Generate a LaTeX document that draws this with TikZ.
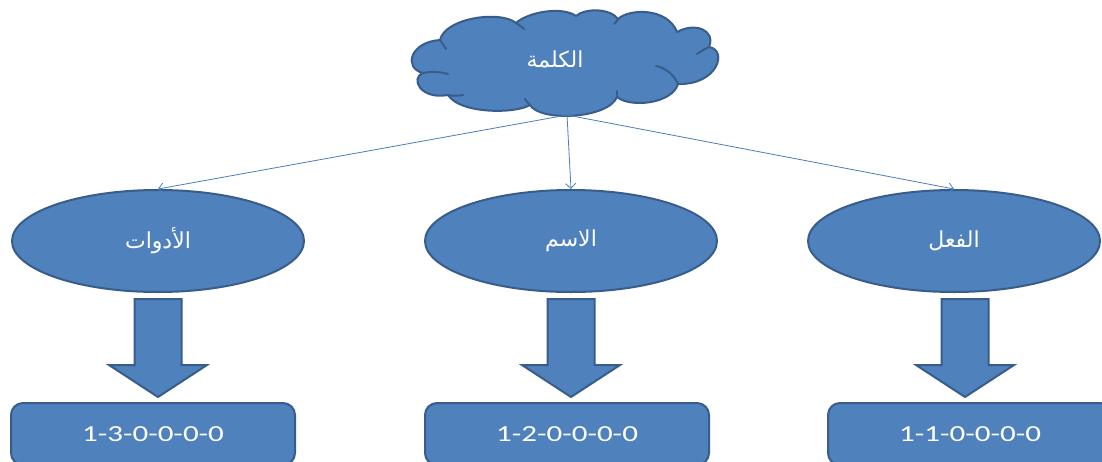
\documentclass[tikz,border=0pt]{standalone}
\usepackage{fontspec}
\setmainfont{Carlito}
\newfontfamily\boxfont[FakeStretch=1.35]{Carlito}
\newfontfamily\arabicfont[Script=Arabic]{DejaVu Sans}
\TeXXeTstate=1
\usetikzlibrary{shapes.geometric,arrows.meta}
\definecolor{fillblue}{HTML}{4F81BD}
\definecolor{edgeblue}{HTML}{385D8A}
\definecolor{lineblue}{HTML}{4A7EBB}
\begin{document}
\begin{tikzpicture}[x=1pt,y=-1pt,
  arabictext/.style={text=white,font=\arabicfont\fontsize{22}{24}\selectfont},
  blob/.style={ellipse,fill=fillblue,draw=edgeblue,line width=2pt,
    minimum width=292pt,minimum height=102pt,inner sep=0pt,arabictext},
  codebox/.style={rectangle,rounded corners=12pt,fill=fillblue,draw=edgeblue,
    line width=2pt,minimum width=284pt,minimum height=62pt,inner sep=0pt,
    text=white,font=\boxfont\fontsize{23}{26}\selectfont},
  conn/.style={draw=lineblue,line width=0.8pt,-{Straight Barb[length=5pt,width=10pt]}},
  blockarrow/.style={fill=fillblue,draw=edgeblue,line width=2pt,line join=miter},
  cloudshape/.style={fill=fillblue,draw=edgeblue,line width=2pt,line join=miter},
  innerarc/.style={draw=edgeblue,line width=2pt,line cap=round}
]
\useasboundingbox (0,0) rectangle (1102,461);
\fill[white] (0,0) rectangle (1102,461);
\clip (0,0) rectangle (1102,461);

% cloud outline through its notches
\draw[cloudshape] (423,73)
  .. controls (403,68) and (410,42) .. (440,40)
  .. controls (445,18) and (500,10) .. (516,23)
  .. controls (528,12) and (562,6) .. (576,16)
  .. controls (585,8) and (610,8) .. (618,19)
  .. controls (630,8) and (668,8) .. (677,32)
  .. controls (695,22) and (716,30) .. (709,47)
  .. controls (728,50) and (718,85) .. (678,84)
  .. controls (672,104) and (630,108) .. (617,97)
  .. controls (608,119) and (540,122) .. (530,105)
  .. controls (515,114) and (460,114) .. (448,95)
  .. controls (420,100) and (410,78) .. cycle;
% small interior arcs of the cloud
\draw[innerarc] (423,73) .. controls (432,71) and (441,72) .. (448,74);
\draw[innerarc] (440,40) .. controls (442,43) and (444,46) .. (446,49);
\draw[innerarc] (516,23) .. controls (519,25) and (522,27) .. (524,29);
\draw[innerarc] (618,19) .. controls (617,21) and (616,22) .. (614,24);
\draw[innerarc] (709,47) .. controls (705,49) and (701,51) .. (697,54);
\draw[innerarc] (678,84) .. controls (674,75) and (666,68) .. (656,66);
\draw[innerarc] (617,97) .. controls (617,95) and (617,93) .. (617,91);
\draw[innerarc] (530,105) .. controls (528,103) and (526,101) .. (525,99);
\draw[innerarc] (448,95) .. controls (453,96) and (458,96) .. (463,95);

\node[arabictext] (word) at (555,59) {\beginR الكلمة\endR};
\coordinate (wordfoot) at (567,115);

\node[blob] (tools) at (158,241) {\beginR الأدوات\endR};
\node[blob] (noun) at (571,241) {\beginR الاسم\endR};
\node[blob] (verb) at (954,241) {\beginR الفعل\endR};

\draw[conn] (wordfoot) -- (tools.north);
\draw[conn] (wordfoot) -- (noun.north);
\draw[conn] (wordfoot) -- (verb.north);

\foreach \cx in {158,571,965}{
  \draw[blockarrow] (\cx-23.5,299) -- (\cx+23.5,299) -- (\cx+23.5,365) -- (\cx+49,365)
    -- (\cx,397) -- (\cx-49,365) -- (\cx-23.5,365) -- cycle;
}

\node[codebox] (c3) at (153,434) {1-3-0-0-0-0};
\node[codebox] (c2) at (567,434) {1-2-0-0-0-0};
\node[codebox] (c1) at (970,434) {1-1-0-0-0-0};
\end{tikzpicture}
\end{document}
